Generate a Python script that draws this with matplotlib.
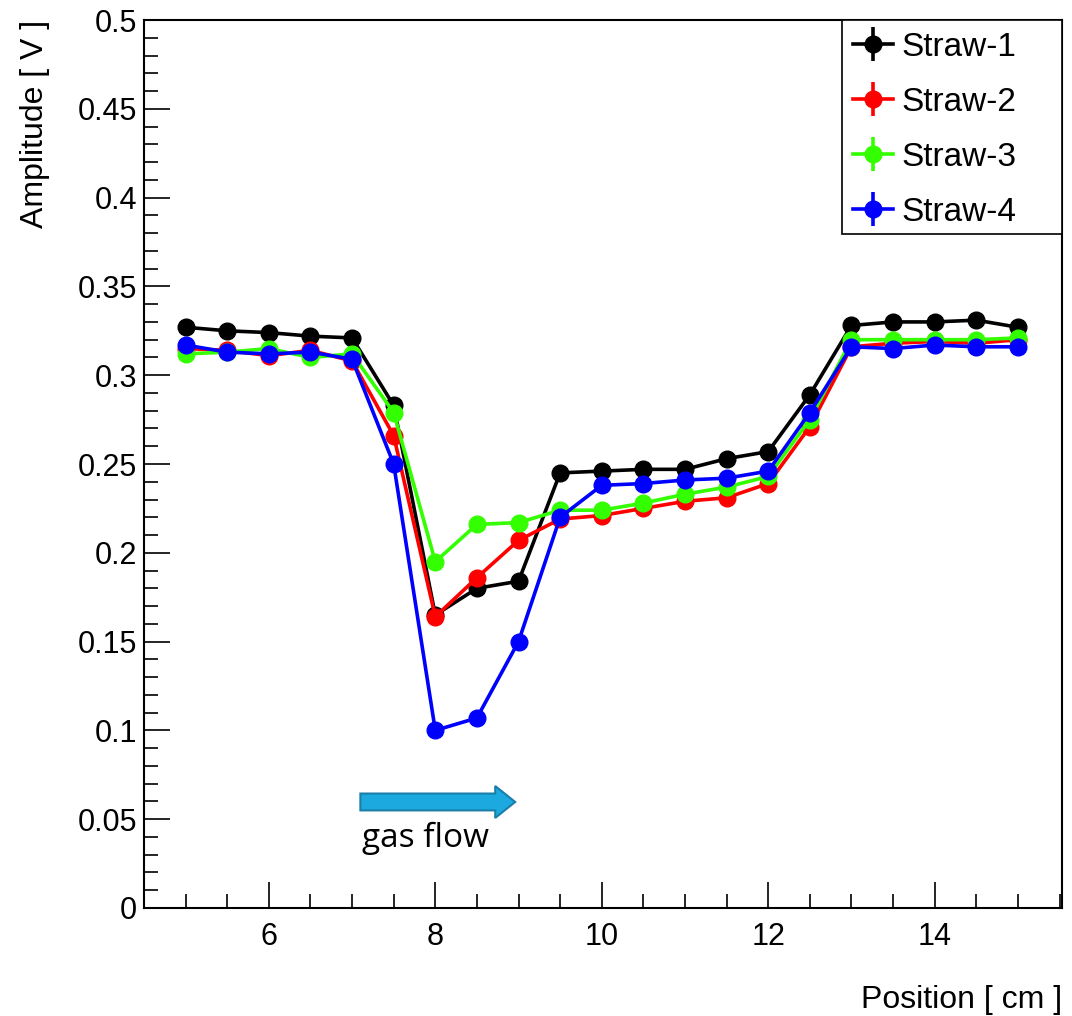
import matplotlib.pyplot as plt
import numpy as np
from matplotlib.patches import FancyArrow, Rectangle
from matplotlib.ticker import MultipleLocator, FuncFormatter

plt.rcParams['font.family'] = ['Liberation Sans', 'DejaVu Sans']

# Position along the straw [cm]
position = [5, 5.5, 6, 6.5, 7, 7.5, 8, 8.5, 9, 9.5, 10,
            10.5, 11, 11.5, 12, 12.5, 13, 13.5, 14, 14.5, 15]

# Signal amplitude [V] for each straw
straw1 = [0.327, 0.325, 0.324, 0.322, 0.321, 0.283, 0.165, 0.180, 0.184, 0.245, 0.246,
          0.247, 0.247, 0.253, 0.257, 0.289, 0.328, 0.330, 0.330, 0.331, 0.327]
straw2 = [0.315, 0.314, 0.311, 0.314, 0.308, 0.266, 0.164, 0.186, 0.207, 0.219, 0.221,
          0.225, 0.229, 0.231, 0.239, 0.271, 0.316, 0.318, 0.319, 0.318, 0.320]
straw3 = [0.312, 0.313, 0.315, 0.310, 0.312, 0.279, 0.195, 0.216, 0.217, 0.224, 0.224,
          0.228, 0.233, 0.237, 0.243, 0.275, 0.320, 0.320, 0.320, 0.320, 0.321]
straw4 = [0.317, 0.313, 0.312, 0.313, 0.309, 0.250, 0.100, 0.107, 0.150, 0.220, 0.238,
          0.239, 0.241, 0.242, 0.246, 0.279, 0.316, 0.315, 0.317, 0.316, 0.316]

series = [("Straw-1", straw1, "black"),
          ("Straw-2", straw2, "#ff0000"),
          ("Straw-3", straw3, "#33ff00"),
          ("Straw-4", straw4, "#0000ff")]

fig = plt.figure(figsize=(10.72, 10.16), dpi=100)
ax = fig.add_axes([0.1343, 0.1063, 0.8564, 0.8740])

for name, vals, col in series:
    ax.errorbar(position, vals, yerr=np.zeros(len(vals)), color=col, marker='o',
                markersize=12, linewidth=2.6, elinewidth=2.6, capsize=0, label=name)

ax.set_xlim(4.5, 15.53)
ax.set_ylim(0, 0.5)

ax.xaxis.set_major_locator(MultipleLocator(2))
ax.xaxis.set_minor_locator(MultipleLocator(0.5))
ax.yaxis.set_major_locator(MultipleLocator(0.05))
ax.yaxis.set_minor_locator(MultipleLocator(0.01))
ax.yaxis.set_major_formatter(FuncFormatter(lambda v, p: f"{round(v, 3):g}"))

ax.tick_params(which='both', direction='in', top=False, right=False,
               labelsize=22, width=1.2, colors='black')
ax.tick_params(which='major', length=19)
ax.tick_params(which='minor', length=10)
ax.tick_params(axis='x', which='major', pad=10)
ax.tick_params(axis='y', which='major', pad=5)
for s in ax.spines.values():
    s.set_linewidth(1.5)

ax.set_xlabel('Position [ cm ]', fontsize=23, loc='right', labelpad=24)
ax.set_ylabel('Amplitude [ V ]', fontsize=23, loc='top', labelpad=20)

# ROOT-like legend box (wider than its text)
ax.add_patch(Rectangle((0.760, 0.759), 0.240, 0.241, transform=ax.transAxes,
                       facecolor='white', edgecolor='black', linewidth=1.2,
                       zorder=4.5, clip_on=False))
leg = ax.legend(loc='upper left', bbox_to_anchor=(0.760, 1.0), borderaxespad=0,
                fontsize=24, frameon=False, handlelength=1.2,
                labelspacing=0.72, borderpad=0.35, handletextpad=0.25)
leg.set_zorder(5)

# gas flow arrow annotation
ax.add_patch(FancyArrow(7.1, 0.0597, 1.62, 0, width=0.0095, head_width=0.018,
                        head_length=0.24, length_includes_head=False,
                        facecolor='#1ca9df', edgecolor='#1a7fa8', linewidth=1.5))
ax.text(7.12, 0.0394, 'gas flow', fontsize=24, family=['Open Sans', 'DejaVu Sans'],
        ha='left', va='center')

plt.savefig('out.png', dpi=100)
